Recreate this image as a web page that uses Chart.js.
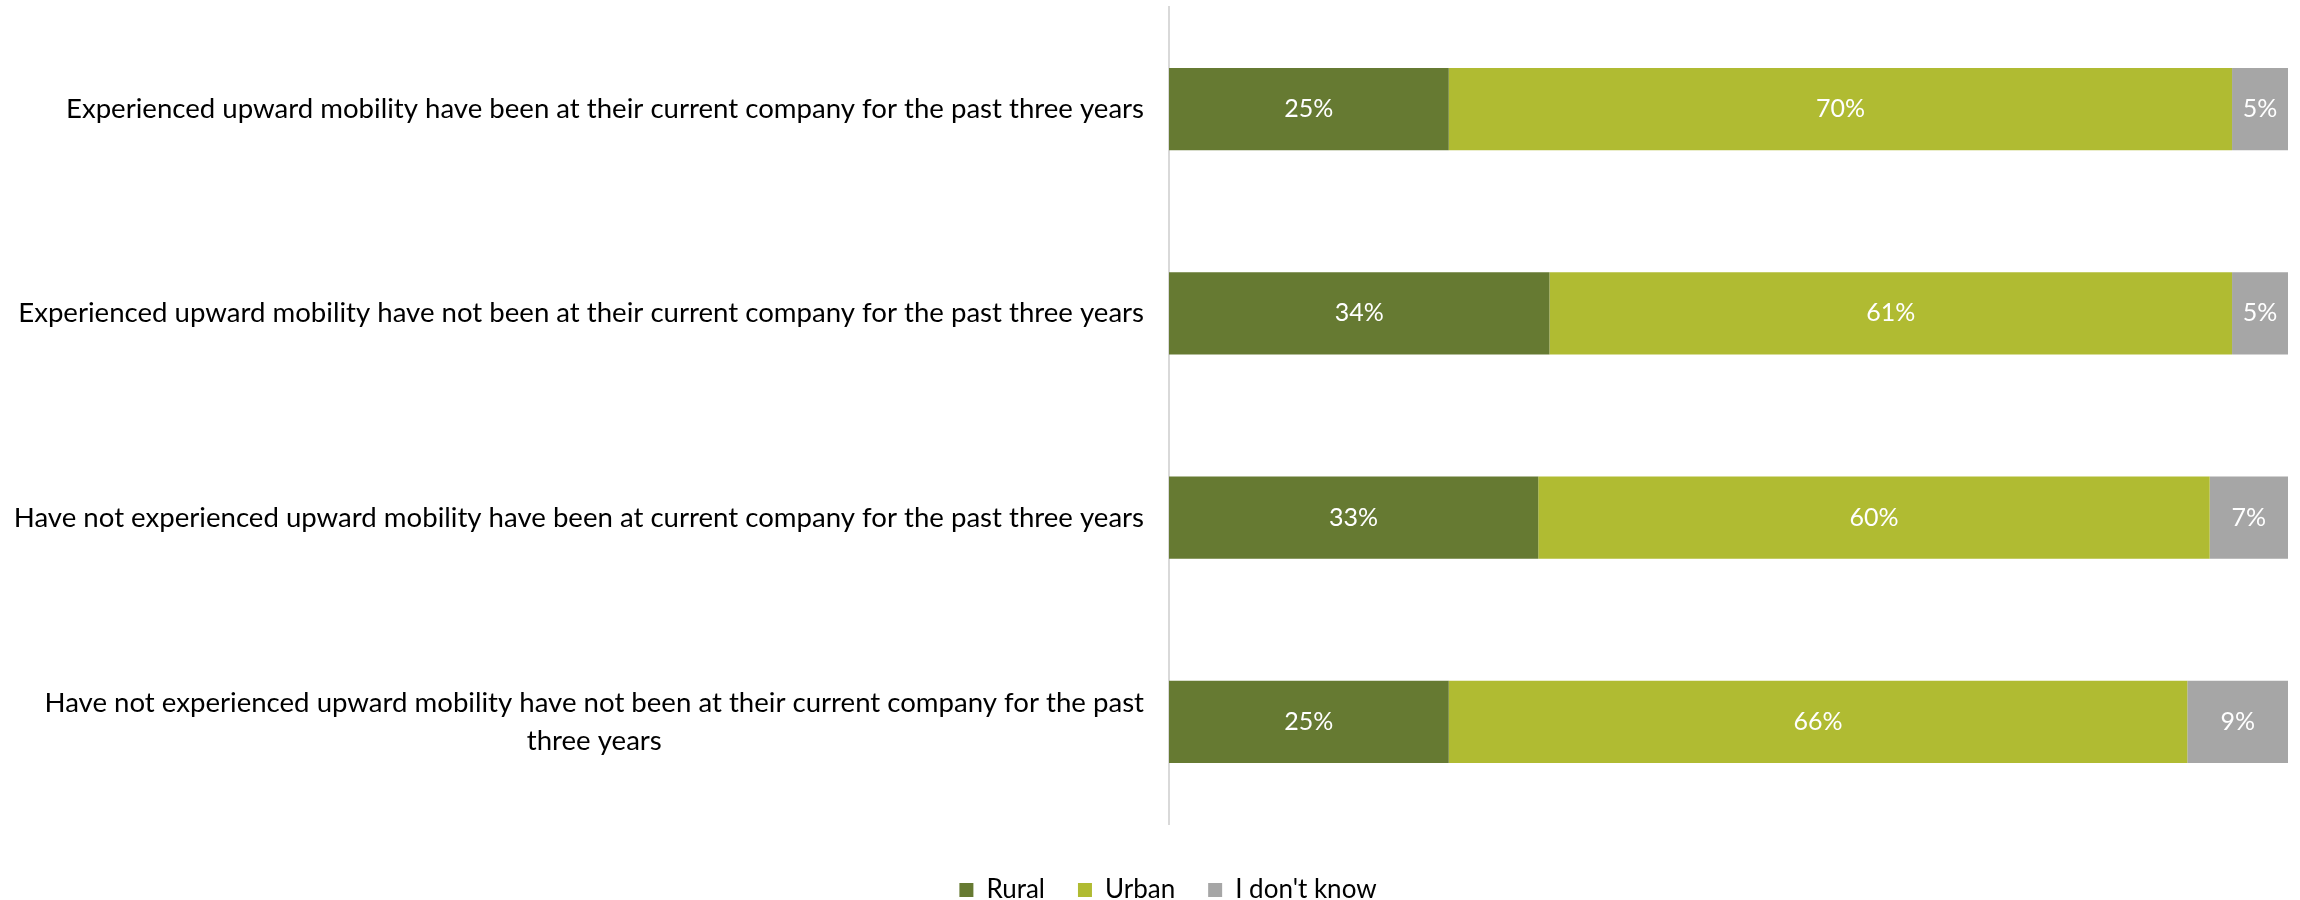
<!DOCTYPE html>
<html>
<head>
<meta charset="utf-8">
<script src="https://cdn.jsdelivr.net/npm/chart.js@4.4.1/dist/chart.umd.min.js"></script>
<style>
  html, body { margin: 0; padding: 0; background: #fff; }
  #wrap { width: 2300px; height: 900px; }
</style>
</head>
<body>
<div id="wrap"><canvas id="myChart" width="2300" height="900"></canvas></div>
<script>
// categories (line breaks as in the original)
const categories = [
    ['Experienced upward mobility have been at their current company for the past three years'],
    ['Experienced upward mobility have not been at their current company for the past three years'],
    ['Have not experienced upward mobility have been at current company for the past three years'],
    ['Have not experienced upward mobility have not been at their current company for the past', 'three years']
];
const seriesNames = ['Rural', 'Urban', "I don't know"];
const rural = [25, 34, 33, 25];
const urban = [70, 61, 60, 66];
const dontKnow = [5, 5, 7, 9];
const colors = ['#667a32', '#b0bb32', '#a6a6a6'];

const fontFamily = 'Lato, "Liberation Sans", sans-serif';

//Category labels: block right aligned, lines centered
const categoryLabels = {
    id: 'categoryLabels',
    afterDraw(chart) {
        let ctx = chart.ctx;
        let yScale = chart.scales.y;
        ctx.save();
        ctx.font = '27.6px ' + fontFamily;
        ctx.fillStyle = '#000000';
        ctx.textBaseline = 'middle';
        ctx.textAlign = 'center';
        categories.forEach((lines, i) => {
            let y = yScale.getPixelForValue(i);
            let widest = Math.max(...lines.map(l => ctx.measureText(l).width));
            let cx = yScale.right - 25 - widest / 2;
            lines.forEach((l, j) => {
                ctx.fillText(l, cx, y + (j - (lines.length - 1) / 2) * 38);
            });
        });
        ctx.restore();
    }
};

//Values inside the bars
const valueLabels = {
    id: 'valueLabels',
    afterDatasetsDraw(chart) {
        let ctx = chart.ctx;
        ctx.save();
        ctx.font = '25px ' + fontFamily;
        ctx.fillStyle = '#ffffff';
        ctx.textAlign = 'center';
        ctx.textBaseline = 'middle';
        chart.data.datasets.forEach((ds, di) => {
            chart.getDatasetMeta(di).data.forEach((bar, i) => {
                ctx.fillText(ds.data[i] + '%', (bar.x + bar.base) / 2, bar.y);
            });
        });
        ctx.restore();
    }
};

new Chart(document.getElementById('myChart'), {
    type: 'bar',
    data: {
        labels: categories,
        datasets: [
            {label: seriesNames[0], data: rural, backgroundColor: colors[0]},
            {label: seriesNames[1], data: urban, backgroundColor: colors[1]},
            {label: seriesNames[2], data: dontKnow, backgroundColor: colors[2]}
        ]
    },
    options: {
        indexAxis: 'y',
        responsive: false,
        animation: false,
        layout: {padding: {top: 7, right: 12, bottom: -13, left: 48}},
        datasets: {bar: {categoryPercentage: 1, barPercentage: 0.403, borderWidth: 0}},
        scales: {
            x: {
                stacked: true,
                min: 0,
                max: 100,
                grid: {display: false},
                border: {display: false},
                ticks: {display: false},
                afterFit: (s) => { s.height = 20; }
            },
            y: {
                stacked: true,
                grid: {display: false},
                border: {display: true, color: '#d9d9d9', width: 2},
                ticks: {display: false},
                afterFit: (s) => { s.width = 1121; }
            }
        },
        plugins: {
            legend: {
                position: 'bottom',
                labels: {
                    boxWidth: 14,
                    boxHeight: 14,
                    padding: 33,
                    color: '#000000',
                    font: {family: fontFamily, size: 26, lineHeight: 1}
                }
            },
            tooltip: {enabled: false}
        }
    },
    plugins: [categoryLabels, valueLabels]
});
</script>
</body>
</html>
